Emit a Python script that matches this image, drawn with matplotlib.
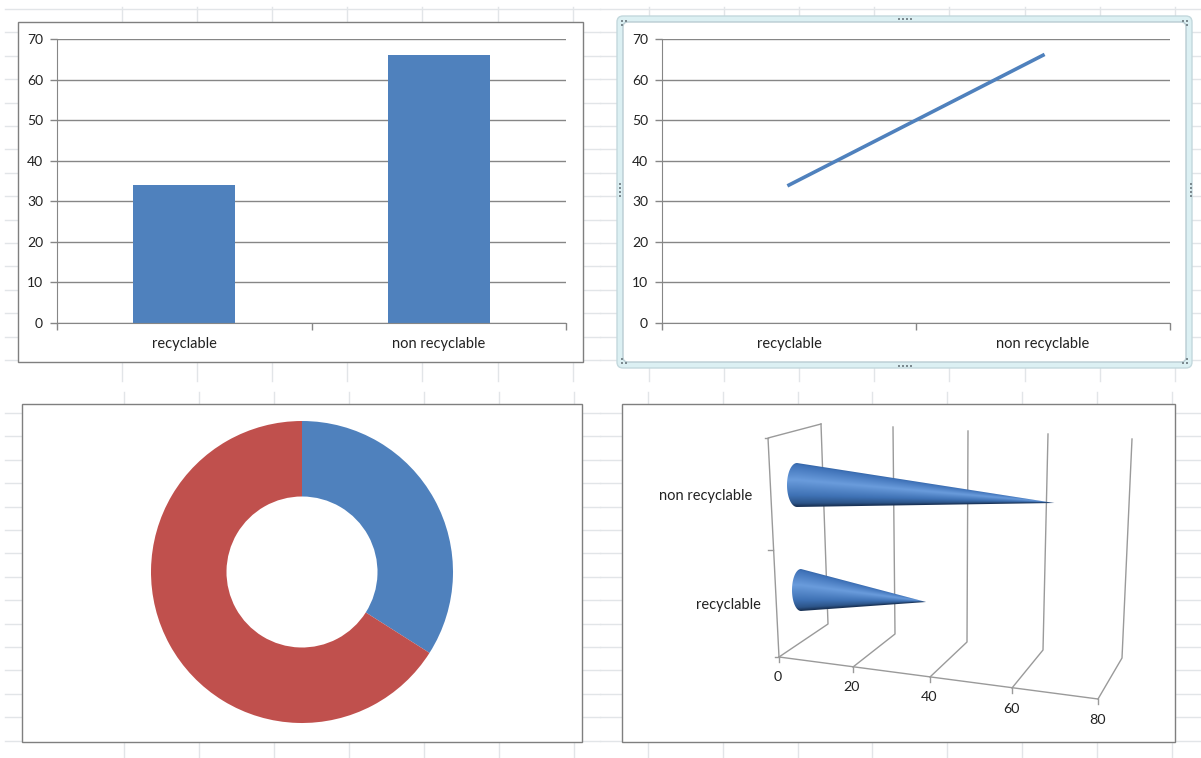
"""Excel screenshot: the same two values as column, line, doughnut and 3D cone charts."""
import numpy as np

import matplotlib
matplotlib.use("Agg")
import matplotlib.pyplot as plt
from matplotlib.colors import LinearSegmentedColormap
from matplotlib.patches import FancyBboxPatch, Polygon, Rectangle

plt.rcParams["font.family"] = ["Lato", "DejaVu Sans"]

CATEGORIES = ["recyclable", "non recyclable"]
VALUES = [34, 66]
Y_TICKS = [0, 10, 20, 30, 40, 50, 60, 70]
CONE_TICKS = [0, 20, 40, 60, 80]

W, H = 1201, 758
BLUE = "#4F81BD"
RED = "#C0504D"
AXIS = "#868686"
SHEET = "#e2e5e8"
TEXT = "#222222"

fig = plt.figure(figsize=(W / 100, H / 100), dpi=100, facecolor="white")

# whole-image layer in pixel coords for the sheet, frames and the fake 3D chart
bg = fig.add_axes([0, 0, 1, 1], zorder=0)
bg.axis("off")


def px_axes(x0, y0, x1, y1):
    ax = fig.add_axes([x0 / W, 1 - y1 / H, (x1 - x0) / W, (y1 - y0) / H], zorder=2)
    ax.patch.set_alpha(0)
    return ax


def sheet_lines(xs, x0, x1, y0, y1, ystart):
    for x in xs:
        bg.plot([x, x], [y0, y1], color=SHEET, lw=1, zorder=1)
    for y in np.arange(ystart, y1, 23.4):
        bg.plot([x0, x1], [y, y], color=SHEET, lw=1, zorder=1)


sheet_lines(np.arange(122, 600, 75.1), 5, 600, 7, 381, 9)
sheet_lines(np.arange(649, 1190, 75.1), 600, 1201, 7, 381, 9)
sheet_lines(np.arange(124, 600, 75), 5, 600, 392, 758, 413)
sheet_lines(np.arange(648, 1190, 74.8), 600, 1201, 392, 758, 413)

# selection border around the line chart
bg.add_patch(FancyBboxPatch((617, 16), 575, 352, boxstyle="round,pad=0,rounding_size=6",
                            fc="#dcf0f3", ec="#c3d8dd", lw=1, zorder=2))
for x0, y0, x1, y1 in [(18, 22, 583, 362), (22, 404, 582, 742), (622, 404, 1175, 742)]:
    bg.add_patch(Rectangle((x0, y0), x1 - x0, y1 - y0, fc="white", ec="#7f7f7f", lw=1, zorder=2))
bg.add_patch(FancyBboxPatch((623, 22), 563, 340, boxstyle="round,pad=0,rounding_size=5",
                            fc="white", ec="#b9ccd2", lw=1, zorder=3))
hx = [898.5, 902.5, 906.5, 910.5]
bg.scatter(hx, [18.5] * 4, s=2, color="#7c8a90", marker="s", lw=0, zorder=4)
bg.scatter(hx, [365.5] * 4, s=2, color="#7c8a90", marker="s", lw=0, zorder=4)
hy = [184, 188, 192, 196]
bg.scatter([619.5] * 4, hy, s=2, color="#7c8a90", marker="s", lw=0, zorder=4)
bg.scatter([1190.5] * 4, hy, s=2, color="#7c8a90", marker="s", lw=0, zorder=4)
for cx, cy, dx, dy in [(622, 21, 1, 1), (1187, 21, -1, 1), (622, 363, 1, -1), (1187, 363, -1, -1)]:
    bg.scatter([cx, cx + 4 * dx, cx], [cy, cy, cy + 4 * dy], s=2, color="#7c8a90", marker="s", lw=0, zorder=4)


def style_cat_axis(ax):
    ax.set_xlim(-0.5, 1.5)
    ax.set_ylim(0, 70)
    ax.set_yticks(Y_TICKS)
    ax.set_xticks([-0.5, 0.5, 1.5])
    ax.set_xticklabels([])
    ax.set_xticks([0, 1], minor=True)
    ax.set_xticklabels(CATEGORIES, minor=True, fontsize=10.5, color=TEXT)
    ax.tick_params(axis="x", which="minor", length=0, pad=10)
    ax.tick_params(axis="x", which="major", length=5, color=AXIS, width=1)
    ax.tick_params(axis="y", length=5, color=AXIS, width=1, labelsize=10, pad=5, labelcolor=TEXT)
    ax.grid(axis="y", color=AXIS, lw=1)
    ax.set_axisbelow(True)
    for side in ["top", "right"]:
        ax.spines[side].set_visible(False)
    for side in ["left", "bottom"]:
        ax.spines[side].set_color(AXIS)


ax1 = px_axes(57, 39, 566, 323)
ax1.bar([0, 1], VALUES, width=0.4, color=BLUE)
style_cat_axis(ax1)

ax2 = px_axes(662, 39, 1170, 323)
ax2.plot([0, 1], VALUES, color=BLUE, lw=2.6)
style_cat_axis(ax2)

ax3 = px_axes(151, 421, 453, 723)
ax3.pie(VALUES, colors=[BLUE, RED], startangle=90, counterclock=False, radius=1,
        wedgeprops=dict(width=0.5))
ax3.set_xlim(-1, 1)
ax3.set_ylim(-1, 1)

# 3D cone chart: perspective walls drawn from front/back anchors of each tick
FRONT = [(779, 657), (853, 667), (930, 677), (1012, 688), (1098, 699)]
BACK = [(828, 624), (895, 634), (967, 642), (1043, 650), (1122, 658)]
TOP = [(821, 424), (893, 427), (968, 431), (1048, 434), (1132, 439)]
LABEL = [(778, 677), (852, 687), (929, 697), (1011, 709), (1097, 720)]
LINE3D = "#9a9a9a"

for f, b, t, lab, tick in zip(FRONT, BACK, TOP, LABEL, CONE_TICKS):
    bg.plot([f[0], b[0], t[0]], [f[1], b[1], t[1]], color=LINE3D, lw=1, zorder=4)
    bg.plot([f[0], f[0]], [f[1], f[1] + 5], color=LINE3D, lw=1, zorder=4)
    bg.text(lab[0], lab[1], str(tick), ha="center", va="center", fontsize=10.3, color=TEXT, zorder=6)
bg.plot([p[0] for p in (FRONT[0], FRONT[-1])], [p[1] for p in (FRONT[0], FRONT[-1])],
        color=LINE3D, lw=1, zorder=4)
bg.plot([779, 768, 821], [657, 438, 424], color=LINE3D, lw=1, zorder=4)
bg.plot([765, 768], [438, 438], color=LINE3D, lw=1, zorder=4)
bg.plot([768, 773], [550, 550], color=LINE3D, lw=1, zorder=4)
bg.plot([775, 779], [657, 657], color=LINE3D, lw=1, zorder=4)

cone_cmap = LinearSegmentedColormap.from_list(
    "cone", [(0, "#2f5f9f"), (0.06, "#3f72b8"), (0.4, "#6a9cdc"), (0.75, "#3f72b5"),
             (0.93, "#2c5488"), (1, "#1a3357")])
# base centre, base radii, tip height and px per unit for each category
CONE_GEOM = {"recyclable": (801, 590, 9, 21, 602, 3.68, 761, 605),
             "non recyclable": (797, 485, 10, 22, 503, 3.9, 752, 496)}

for cat, val in zip(CATEGORIES, VALUES):
    cx, cy, rx, ry, tip_y, scale, lab_x, lab_y = CONE_GEOM[cat]
    tip_x = cx + val * scale
    th = np.linspace(np.pi / 2, 3 * np.pi / 2, 40)
    outline = np.column_stack([cx + rx * np.cos(th), cy - ry * np.sin(th)])
    outline = np.vstack([[tip_x, tip_y], outline])
    xs = np.arange(cx - rx - 1, tip_x + 2, 0.5)
    ys = np.arange(cy - ry - 2, cy + ry + 2, 0.5)
    gx, gy = np.meshgrid(xs, ys)
    frac = np.clip((gx - cx) / (tip_x - cx), 0, 0.995)
    mid = cy + (tip_y - cy) * frac
    v = (gy - mid) / (ry * (1 - frac))
    im = bg.imshow((np.clip(v, -1, 1) + 1) / 2, cmap=cone_cmap, vmin=0, vmax=1, aspect="auto",
                   extent=(xs[0], xs[-1], ys[-1], ys[0]), zorder=5, interpolation="bilinear")
    clip = Polygon(outline, closed=True, transform=bg.transData)
    im.set_clip_path(clip)
    bg.text(lab_x, lab_y, cat, ha="right", va="center", fontsize=10.5, color=TEXT, zorder=6)

bg.set_xlim(0, W)
bg.set_ylim(H, 0)

fig.savefig("out.png", dpi=100)
